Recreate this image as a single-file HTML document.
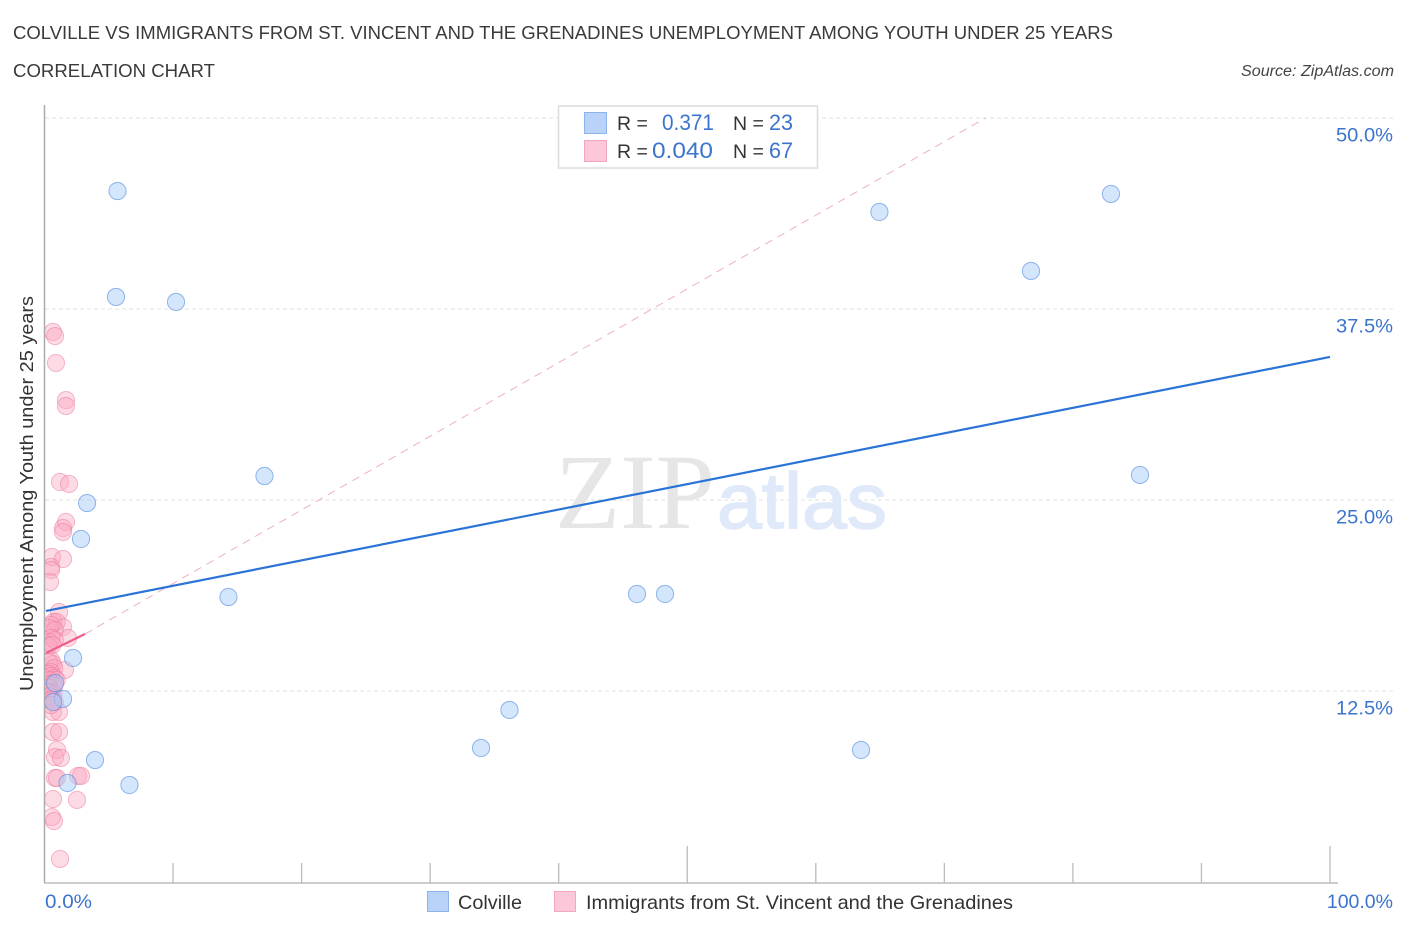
<!DOCTYPE html>
<html lang="en">
<head>
<meta charset="utf-8">
<title>Colville vs Immigrants from St. Vincent and the Grenadines correlation chart</title>
<style>
html,body{margin:0;padding:0;background:#fff;}
svg{display:block;}
text{font-family:"Liberation Sans",sans-serif;}
</style>
</head>
<body>
<svg id="chart" xmlns="http://www.w3.org/2000/svg" width="1406" height="930" viewBox="0 0 1406 930">
  <defs>
    <clipPath id="plot-clip"><rect x="45" y="100" width="1300" height="783"/></clipPath>
  </defs>
  <rect width="1406" height="930" fill="#fff"/>
  <text x="13" y="39" font-size="18.5" fill="#3a3a3a" textLength="1100" lengthAdjust="spacingAndGlyphs">COLVILLE VS IMMIGRANTS FROM ST. VINCENT AND THE GRENADINES UNEMPLOYMENT AMONG YOUTH UNDER 25 YEARS</text>
  <text x="13" y="77" font-size="18.5" fill="#3a3a3a" textLength="202" lengthAdjust="spacingAndGlyphs">CORRELATION CHART</text>
  <text x="1241" y="76" font-size="15.5" font-style="italic" fill="#444" textLength="153" lengthAdjust="spacingAndGlyphs">Source: ZipAtlas.com</text>

  <g id="grid"></g>

  <g>
    <text x="555" y="528" font-size="107" fill="#e6e6e6" textLength="160" lengthAdjust="spacingAndGlyphs" style="font-family:'Liberation Serif',serif">ZIP</text>
    <text x="717" y="528" font-size="79" fill="#dfe9f9" stroke="#dfe9f9" stroke-width="1.5" textLength="170" lengthAdjust="spacingAndGlyphs" font-family="Liberation Sans, sans-serif" style="font-family:'Liberation Sans',sans-serif">atlas</text>
  </g>

  <g id="axes"></g>
  <g id="pink-points" clip-path="url(#plot-clip)"></g>
  <g id="blue-points" clip-path="url(#plot-clip)"></g>
  <g id="trends"></g>
  <g id="tick-labels"></g>

  <text transform="translate(33,691) rotate(-90)" font-size="18.5" fill="#333" textLength="395" lengthAdjust="spacingAndGlyphs">Unemployment Among Youth under 25 years</text>

  <g>
    <rect x="558.5" y="106" width="259" height="62" fill="#fff" stroke="#dcdcdc" stroke-width="1.5"/>
    <rect x="584.5" y="112.5" width="22" height="21" fill="#b9d3f8" stroke="#8db4ea" stroke-width="1"/>
    <rect x="584.5" y="140.5" width="22" height="21" fill="#fcc7d8" stroke="#f3a6bf" stroke-width="1"/>
    <text x="617" y="130" font-size="19.5" fill="#333">R =</text>
    <text x="662" y="130" font-size="22" fill="#3b74cc" textLength="52" lengthAdjust="spacingAndGlyphs">0.371</text>
    <text x="733" y="130" font-size="19.5" fill="#333">N =</text>
    <text x="769" y="130" font-size="22" fill="#3b74cc" textLength="24" lengthAdjust="spacingAndGlyphs">23</text>
    <text x="617" y="158" font-size="19.5" fill="#333">R =</text>
    <text x="652" y="158" font-size="22" fill="#3b74cc" textLength="61" lengthAdjust="spacingAndGlyphs">0.040</text>
    <text x="733" y="158" font-size="19.5" fill="#333">N =</text>
    <text x="769" y="158" font-size="22" fill="#3b74cc" textLength="24" lengthAdjust="spacingAndGlyphs">67</text>
  </g>

  <g>
    <g>
      <rect x="427.5" y="891.5" width="21" height="20" fill="#b9d3f8" stroke="#8db4ea" stroke-width="1"/>
      <text x="458" y="909" font-size="19.5" fill="#333" textLength="64" lengthAdjust="spacingAndGlyphs">Colville</text>
    </g>
    <g>
      <rect x="554.5" y="891.5" width="21" height="20" fill="#fcc7d8" stroke="#f3a6bf" stroke-width="1"/>
      <text x="586" y="909" font-size="19.5" fill="#333" textLength="427" lengthAdjust="spacingAndGlyphs">Immigrants from St. Vincent and the Grenadines</text>
    </g>
  </g>
</svg>

<script>
var colvilleX = [5.68,5.56,10.23,17.11,3.31,2.84,14.31,2.22,1.44,0.66,0.82,3.93,1.79,6.61,33.96,36.17,46.09,48.27,63.52,64.95,76.74,82.96,85.22];
var colvilleY = [45.22,38.29,37.96,26.57,24.80,22.45,18.65,14.66,11.98,11.78,13.02,7.98,6.48,6.35,8.77,11.26,18.85,18.85,8.64,43.85,39.99,45.03,26.64];

var immigrantsX = [1.13,1.44,1.83,1.59,0.66,1.13,0.66,1.13,0.97,0.82,1.28,0.82,0.97,2.61,2.84,0.66,2.53,0.58,0.74,1.21,0.66,0.82,0.89,1.67,1.67,1.21,1.91,1.67,1.44,1.44,0.58,1.44,0.51,0.51,0.43,0.70,0.95,0.55,0.40,0.80,0.55,0.40,0.80,0.30,0.60,0.50,0.65,0.32,0.75,0.50,0.30,0.55,0.80,0.40,0.95,0.60,0.30,0.75,0.35,0.50,0.70,0.28,0.65,0.40,0.55,0.80,0.50];
var immigrantsY = [17.67,16.69,15.97,13.87,11.13,11.13,9.82,9.82,8.64,8.18,8.12,6.81,6.81,6.94,6.94,5.43,5.37,4.25,3.99,1.51,36.0,35.73,33.97,31.54,31.15,26.18,26.05,23.56,23.17,22.91,21.27,21.14,20.62,20.42,19.63,17.02,17.02,16.82,16.62,16.49,15.97,15.71,15.84,15.45,15.51,14.53,14.27,14.40,14.0,13.74,13.61,13.48,13.35,13.22,13.22,12.96,12.96,12.83,12.70,12.43,12.30,12.43,12.04,12.17,11.91,11.78,11.58];

var colvilleTrendX = [0.12,100];
var colvilleTrendY = [17.74,34.36];
var immigrantsTrendX = [0.12,3.15];
var immigrantsTrendY = [14.99,16.23];
var immigrantsExtendedX = [3.15,73.2];
var immigrantsExtendedY = [16.23,50];

var yTickValues = [12.5,25,37.5,50];
var yTickLabels = ["12.5%","25.0%","37.5%","50.0%"];
var xTickValues = [10,20,30,40,50,60,70,80,90,100];
var xMajorTicks = [50,100];
var xEndLabels = ["0.0%","100.0%"];

var NS = "http://www.w3.org/2000/svg";
var X0 = 44.5, XSCALE = 12.855, Y0 = 882, YSCALE = 15.28;
function xPos(v){ return X0 + v * XSCALE; }
function yPos(v){ return Y0 - v * YSCALE; }
function make(parent, tag, attrs){
  var el = document.createElementNS(NS, tag);
  for (var k in attrs) el.setAttribute(k, attrs[k]);
  parent.appendChild(el);
  return el;
}

var grid = document.getElementById("grid");
yTickValues.forEach(function(v){
  var line = make(grid, "line", {x1:45, x2:1394, y1:yPos(v), y2:yPos(v), stroke:"#e0e0e0", "stroke-width":1, "stroke-dasharray":"4 3"});
  
  
});

var axes = document.getElementById("axes");
var ySpine = make(axes, "line", {x1:44.5, x2:44.5, y1:105, y2:883, stroke:"#aaa", "stroke-width":1.5});


var xSpine = make(axes, "line", {x1:44, x2:1338, y1:883, y2:883, stroke:"#bbb", "stroke-width":1.5});


xTickValues.forEach(function(v){
  var len = xMajorTicks.indexOf(v) >= 0 ? 37 : 20;
  var tick = make(axes, "line", {x1:xPos(v), x2:xPos(v), y1:883, y2:883 - len, stroke:"#bbb", "stroke-width":1.3});
  
  
});

var pinkGroup = document.getElementById("pink-points");
immigrantsX.forEach(function(v, i){
  var c = make(pinkGroup, "circle", {cx:xPos(v), cy:yPos(immigrantsY[i]), r:8.6, fill:"rgba(250,165,190,0.4)", stroke:"rgba(236,120,155,0.5)", "stroke-width":1});
  
  
});
var blueGroup = document.getElementById("blue-points");
colvilleX.forEach(function(v, i){
  var c = make(blueGroup, "circle", {cx:xPos(v), cy:yPos(colvilleY[i]), r:8.6, fill:"rgba(170,205,250,0.5)", stroke:"rgba(90,145,225,0.65)", "stroke-width":1});
  
  
});

var trends = document.getElementById("trends");
var dashed = make(trends, "line", {x1:xPos(immigrantsExtendedX[0]), y1:yPos(immigrantsExtendedY[0]), x2:xPos(immigrantsExtendedX[1]), y2:yPos(immigrantsExtendedY[1]), stroke:"#eeb0c4", "stroke-width":1, "stroke-dasharray":"8 6"});


var pinkTrend = make(trends, "line", {x1:xPos(immigrantsTrendX[0]), y1:yPos(immigrantsTrendY[0]), x2:xPos(immigrantsTrendX[1]), y2:yPos(immigrantsTrendY[1]), stroke:"#ee5f8c", "stroke-width":2.2});


var blueTrend = make(trends, "line", {x1:xPos(colvilleTrendX[0]), y1:yPos(colvilleTrendY[0]), x2:xPos(colvilleTrendX[1]), y2:yPos(colvilleTrendY[1]), stroke:"#2a74d6", "stroke-width":2.2});



var labels = document.getElementById("tick-labels");
yTickValues.forEach(function(v, i){
  var t = make(labels, "text", {x:1336, y:yPos(v) + 23.5, "font-size":19.5, fill:"#3b74cc", textLength:57, lengthAdjust:"spacingAndGlyphs"});
  
  
  t.textContent = yTickLabels[i];
});
var x0Label = make(labels, "text", {x:45, y:908, "font-size":19.5, fill:"#3b74cc", textLength:47, lengthAdjust:"spacingAndGlyphs"});


x0Label.textContent = xEndLabels[0];
var x1Label = make(labels, "text", {x:1393, y:908, "font-size":19.5, fill:"#3b74cc", "text-anchor":"end"});


x1Label.textContent = xEndLabels[1];
</script>
</body>
</html>
